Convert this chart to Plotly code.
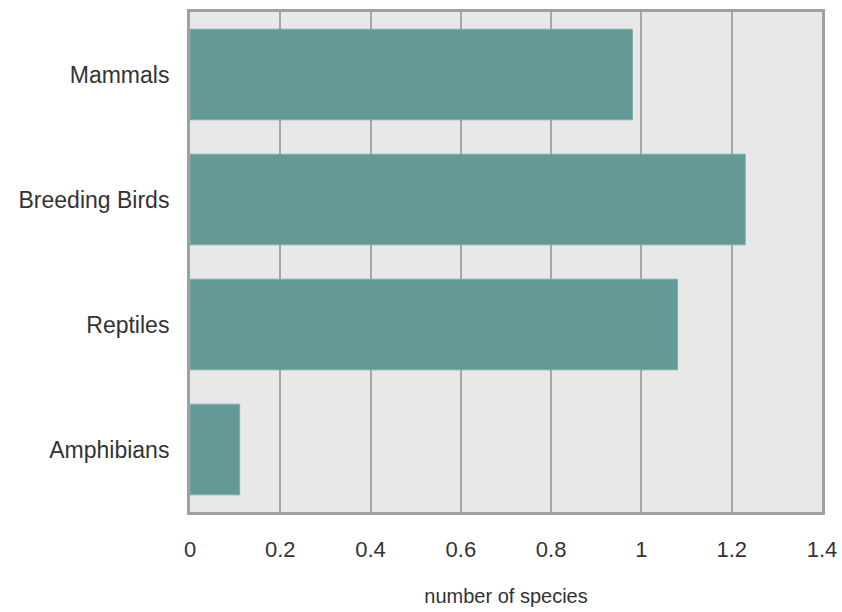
import plotly.graph_objects as go

categories = ["Mammals", "Breeding Birds", "Reptiles", "Amphibians"]
values = [0.98, 1.23, 1.08, 0.11]
x_ticks = [0, 0.2, 0.4, 0.6, 0.8, 1, 1.2, 1.4]
x_tick_labels = ["0", "0.2", "0.4", "0.6", "0.8", "1", "1.2", "1.4"]

fig = go.Figure(go.Bar(
    y=categories, x=values, orientation="h",
    marker=dict(color="#639a98", line=dict(color="#7aaeac", width=1)),
))

fig.update_layout(
    width=842, height=612,
    margin=dict(l=190, r=20, t=12, b=100),
    paper_bgcolor="white", plot_bgcolor="#e8e8e8",
    bargap=0.275, showlegend=False,
    font=dict(family="Liberation Sans, Arial, sans-serif", size=22, color="#333333"),
)
fig.update_xaxes(
    range=[0, 1.4], tickvals=x_ticks, ticktext=x_tick_labels,
    showgrid=True, gridcolor="#a6a6a6", gridwidth=1.5,
    showline=True, mirror=True, linecolor="#a0a0a0", linewidth=3,
    ticks="outside", ticklen=16, tickcolor="rgba(0,0,0,0)",
    tickfont=dict(size=22), automargin=False,
    zeroline=False,
    title=dict(text="number of species", standoff=28, font=dict(size=20)),
)
fig.update_yaxes(
    categoryorder="array", categoryarray=categories[::-1],
    showgrid=False, showline=True, mirror=True, linecolor="#a0a0a0", linewidth=3,
    ticks="outside", ticklen=13, tickcolor="rgba(0,0,0,0)",
    tickfont=dict(size=23), automargin=False,
)
fig.write_html(
    "out.html",
    config={"displayModeBar": False},
    post_script="document.body.style.margin='0';document.body.style.overflow='hidden';",
)
